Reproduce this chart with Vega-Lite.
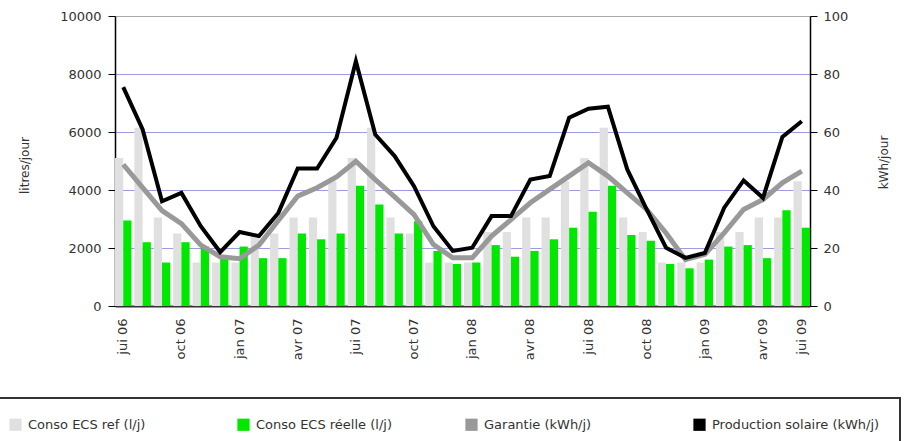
{
  "$schema": "https://vega.github.io/schema/vega-lite/v6.json",
  "width": 695,
  "height": 290,
  "autosize": {"type": "none"},
  "padding": {"left": 115, "top": 16, "right": 96, "bottom": 135},
  "config": {
    "view": {"stroke": null},
    "font": "DejaVu Sans",
    "axis": {"labelFont": "DejaVu Sans", "labelFontSize": 13, "labelColor": "#333333", "titleFont": "DejaVu Sans", "titleFontSize": 12, "titleFontWeight": "normal", "titleColor": "#333333"},
    "legend": {"strokeWidth": 2}
  },
  "data": {"values": [
    {"m": "2006-07", "ref": 5100, "reel": 2950, "gar": 48.8, "prod": 75.5},
    {"m": "2006-08", "ref": 6150, "reel": 2200, "gar": 40.8, "prod": 60.9},
    {"m": "2006-09", "ref": 3050, "reel": 1500, "gar": 32.9, "prod": 36.1},
    {"m": "2006-10", "ref": 2500, "reel": 2200, "gar": 28.4, "prod": 39.0},
    {"m": "2006-11", "ref": 1500, "reel": 2050, "gar": 21.0, "prod": 27.5},
    {"m": "2006-12", "ref": 1500, "reel": 1650, "gar": 17.0, "prod": 18.6},
    {"m": "2007-01", "ref": 1500, "reel": 2050, "gar": 16.3, "prod": 25.5},
    {"m": "2007-02", "ref": 2500, "reel": 1650, "gar": 21.0, "prod": 24.1},
    {"m": "2007-03", "ref": 2500, "reel": 1650, "gar": 29.5, "prod": 32.1},
    {"m": "2007-04", "ref": 3050, "reel": 2500, "gar": 37.9, "prod": 47.4},
    {"m": "2007-05", "ref": 3050, "reel": 2300, "gar": 40.8, "prod": 47.4},
    {"m": "2007-06", "ref": 4300, "reel": 2500, "gar": 44.5, "prod": 58.0},
    {"m": "2007-07", "ref": 5100, "reel": 4150, "gar": 49.9, "prod": 84.4},
    {"m": "2007-08", "ref": 6150, "reel": 3500, "gar": 43.6, "prod": 59.1},
    {"m": "2007-09", "ref": 3050, "reel": 2500, "gar": 37.6, "prod": 51.7},
    {"m": "2007-10", "ref": 2500, "reel": 2925, "gar": 31.5, "prod": 41.3},
    {"m": "2007-11", "ref": 1500, "reel": 1900, "gar": 21.2, "prod": 27.5},
    {"m": "2007-12", "ref": 1500, "reel": 1450, "gar": 16.6, "prod": 19.0},
    {"m": "2008-01", "ref": 1500, "reel": 1500, "gar": 16.6, "prod": 20.1},
    {"m": "2008-02", "ref": 2550, "reel": 2100, "gar": 24.1, "prod": 31.0},
    {"m": "2008-03", "ref": 2550, "reel": 1700, "gar": 29.8, "prod": 31.0},
    {"m": "2008-04", "ref": 3050, "reel": 1900, "gar": 35.6, "prod": 43.6},
    {"m": "2008-05", "ref": 3050, "reel": 2300, "gar": 40.2, "prod": 44.8},
    {"m": "2008-06", "ref": 4300, "reel": 2700, "gar": 44.8, "prod": 64.9},
    {"m": "2008-07", "ref": 5100, "reel": 3250, "gar": 49.4, "prod": 68.0},
    {"m": "2008-08", "ref": 6150, "reel": 4150, "gar": 44.8, "prod": 68.7},
    {"m": "2008-09", "ref": 3050, "reel": 2450, "gar": 39.0, "prod": 47.1},
    {"m": "2008-10", "ref": 2550, "reel": 2250, "gar": 33.3, "prod": 33.3},
    {"m": "2008-11", "ref": 1500, "reel": 1450, "gar": 25.2, "prod": 20.1},
    {"m": "2008-12", "ref": 1500, "reel": 1300, "gar": 16.0, "prod": 16.6},
    {"m": "2009-01", "ref": 1500, "reel": 1600, "gar": 17.8, "prod": 18.3},
    {"m": "2009-02", "ref": 2550, "reel": 2050, "gar": 25.2, "prod": 33.9},
    {"m": "2009-03", "ref": 2550, "reel": 2100, "gar": 33.3, "prod": 43.3},
    {"m": "2009-04", "ref": 3050, "reel": 1650, "gar": 36.7, "prod": 37.3},
    {"m": "2009-05", "ref": 3050, "reel": 3300, "gar": 42.5, "prod": 58.3},
    {"m": "2009-06", "ref": 4300, "reel": 2700, "gar": 46.5, "prod": 63.7}
  ]},
  "layer": [
    {
      "transform": [{"fold": ["ref", "reel"], "as": ["s", "v"]}],
      "mark": {"type": "bar"},
      "encoding": {
        "x": {
          "field": "m", "type": "ordinal",
          "scale": {"paddingInner": 0.15, "paddingOuter": 0},
          "axis": {
            "title": null,
            "values": ["2006-07", "2006-10", "2007-01", "2007-04", "2007-07", "2007-10", "2008-01", "2008-04", "2008-07", "2008-10", "2009-01", "2009-04", "2009-06"],
            "labelExpr": "['jan','fév','mar','avr','mai','jui','jui','aoû','sep','oct','nov','déc'][toNumber(slice(datum.value,5,7))-1] + ' ' + slice(datum.value,2,4)",
            "labelAngle": -90, "labelAlign": "right", "labelBaseline": "middle",
            "ticks": false, "labelPadding": 12,
            "domainColor": "#333333", "domainWidth": 2, "grid": false
          }
        },
        "xOffset": {"field": "s", "type": "nominal", "scale": {"domain": ["ref", "reel"], "paddingInner": 0}},
        "y": {
          "field": "v", "type": "quantitative",
          "scale": {"domain": [0, 10000]},
          "axis": {
            "title": "litres/jour", "format": "d",
            "values": [0, 2000, 4000, 6000, 8000, 10000],
            "tickSize": 7, "tickColor": "#000000", "domainColor": "#000000", "domainWidth": 1.5,
            "labelPadding": 7,
            "grid": true,
            "gridColor": {"condition": {"test": "datum.value >= 10000", "value": "#aaaaaa"}, "value": "#9b9be6"},
            "gridWidth": 1,
            "titleX": -91, "titleY": 149, "titleAngle": -90, "titleAlign": "center", "titleBaseline": "middle"
          }
        },
        "color": {
          "field": "s", "type": "nominal",
          "scale": {"domain": ["ref", "reel", "gar", "prod"], "range": ["#e0e0e0", "#00e800", "#999999", "#000000"]},
          "legend": {
            "title": null,
            "orient": "none", "legendX": -126, "legendY": 382,
            "direction": "horizontal", "columns": 4, "gridAlign": "all", "columnPadding": 41,
            "symbolType": "square", "symbolSize": 150, "symbolStrokeWidth": 0,
            "labelFont": "DejaVu Sans", "labelFontSize": 13, "labelColor": "#333333", "labelLimit": 300, "labelOffset": 6,
            "padding": 20, "strokeColor": "#333333",
            "labelExpr": "datum.value == 'ref' ? 'Conso ECS ref (l/j)' : datum.value == 'reel' ? 'Conso ECS réelle (l/j)' : datum.value == 'gar' ? 'Garantie (kWh/j)' : 'Production solaire (kWh/j)'"
          }
        }
      }
    },
    {
      "transform": [{"fold": ["gar", "prod"], "as": ["s", "v"]}],
      "mark": {"type": "line", "strokeJoin": "miter"},
      "encoding": {
        "x": {"field": "m", "type": "ordinal"},
        "y": {
          "field": "v", "type": "quantitative",
          "scale": {"domain": [0, 100]},
          "axis": {
            "orient": "right", "title": "kWh/jour",
            "values": [0, 20, 40, 60, 80, 100],
            "tickSize": 7, "tickColor": "#000000", "domainColor": "#000000", "domainWidth": 1.5,
            "labelPadding": 6, "grid": false,
            "titleX": 73, "titleY": 146, "titleAngle": -90, "titleAlign": "center", "titleBaseline": "middle"
          }
        },
        "color": {"field": "s", "type": "nominal", "legend": null},
        "strokeWidth": {"field": "s", "type": "nominal", "scale": {"domain": ["gar", "prod"], "range": [5, 4]}, "legend": null}
      }
    }
  ],
  "resolve": {"scale": {"y": "independent"}}
}
